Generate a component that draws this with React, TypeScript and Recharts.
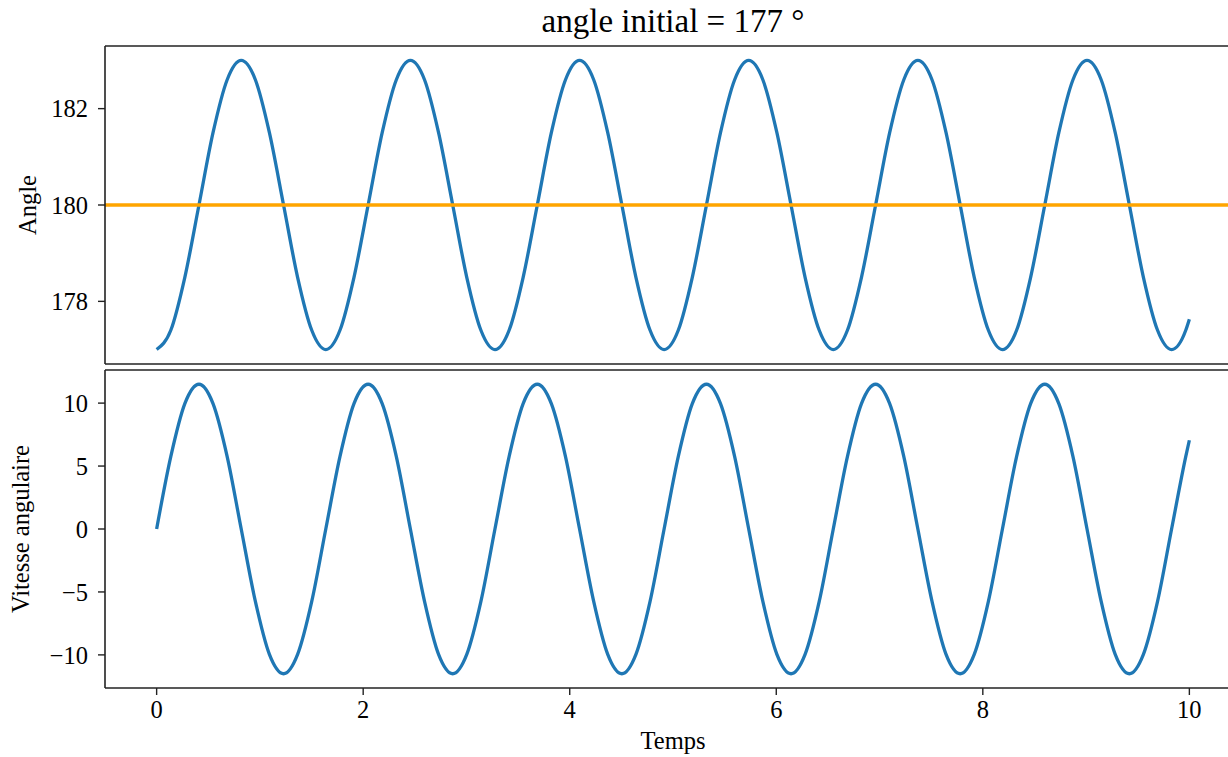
import React from "react";
import { LineChart, Line, XAxis, YAxis, ReferenceLine, Label } from "recharts";

// valeurs (pas de temps ~ T/12, T ~ 1.64 s)
const temps = [
  0, 0.137, 0.273, 0.41, 0.546, 0.683, 0.819, 0.956, 1.092, 1.229, 1.365, 1.502,
  1.638, 1.775, 1.911, 2.048, 2.184, 2.321, 2.457, 2.594, 2.73, 2.867, 3.003, 3.14,
  3.276, 3.413, 3.549, 3.686, 3.822, 3.959, 4.095, 4.232, 4.368, 4.505, 4.641, 4.778,
  4.914, 5.051, 5.187, 5.324, 5.46, 5.597, 5.733, 5.87, 6.006, 6.143, 6.279, 6.416,
  6.552, 6.689, 6.825, 6.962, 7.098, 7.235, 7.371, 7.508, 7.644, 7.781, 7.917, 8.054,
  8.19, 8.327, 8.463, 8.6, 8.736, 8.873, 9.009, 9.146, 9.282, 9.419, 9.555, 9.692,
  9.828, 9.965, 10.0,
];

const angle = [
  177.0, 177.4, 178.5, 180.0, 181.5, 182.6, 183.0, 182.6, 181.5, 180.0, 178.5, 177.4,
  177.0, 177.4, 178.5, 180.0, 181.5, 182.6, 183.0, 182.6, 181.5, 180.0, 178.5, 177.4,
  177.0, 177.4, 178.5, 180.0, 181.5, 182.6, 183.0, 182.6, 181.5, 180.0, 178.5, 177.4,
  177.0, 177.4, 178.5, 180.0, 181.5, 182.6, 183.0, 182.6, 181.5, 180.0, 178.5, 177.4,
  177.0, 177.4, 178.5, 180.0, 181.5, 182.6, 183.0, 182.6, 181.5, 180.0, 178.5, 177.4,
  177.0, 177.4, 178.5, 180.0, 181.5, 182.6, 183.0, 182.6, 181.5, 180.0, 178.5, 177.4,
  177.0, 177.4, 177.63,
];

const vitesse = [
  0, 5.75, 9.96, 11.5, 9.96, 5.75, 0, -5.75, -9.96, -11.5, -9.96, -5.75,
  0, 5.75, 9.96, 11.5, 9.96, 5.75, 0, -5.75, -9.96, -11.5, -9.96, -5.75,
  0, 5.75, 9.96, 11.5, 9.96, 5.75, 0, -5.75, -9.96, -11.5, -9.96, -5.75,
  0, 5.75, 9.96, 11.5, 9.96, 5.75, 0, -5.75, -9.96, -11.5, -9.96, -5.75,
  0, 5.75, 9.96, 11.5, 9.96, 5.75, 0, -5.75, -9.96, -11.5, -9.96, -5.75,
  0, 5.75, 9.96, 11.5, 9.96, 5.75, 0, -5.75, -9.96, -11.5, -9.96, -5.75,
  0, 5.75, 7.05,
];

const xTicks = [0, 2, 4, 6, 8, 10];
const angleTicks = [178, 180, 182];
const vitesseTicks = [-10, -5, 0, 5, 10];
const angleRef = 180;

const data = temps.map((t, i) => ({ t, angle: angle[i], vitesse: vitesse[i] }));

const FONT = "'Liberation Serif', 'Times New Roman', serif";
const FS = 24.5;
const AXIS = "#222";
const BLUE = "#1f77b4";
const W = 1300;
const H = 757;

const tickStyle = { fontSize: FS, fill: "#000", fontFamily: FONT };
const minus = (v: number) => String(v).replace("-", "\u2212");

// label vertical de l'axe y (x = ligne de base)
const yLabel = (text: string, x: number) => (props: any) => {
  const vb = props.viewBox;
  const y = vb.y + vb.height / 2;
  return (
    <text x={x} y={y} transform={`rotate(-90 ${x} ${y})`} textAnchor="middle"
      fontSize={FS} fontFamily={FONT} fill="#000">
      {text}
    </text>
  );
};

const xLabel = (text: string) => (props: any) => {
  const vb = props.viewBox;
  return (
    <text x={vb.x + vb.width / 2} y={749} textAnchor="middle" fontSize={FS} fontFamily={FONT} fill="#000">
      {text}
    </text>
  );
};

export default function App() {
  return (
    <div style={{ position: "fixed", left: 0, top: 0, width: 1228, height: 757, overflow: "hidden", background: "#fff", fontFamily: FONT }}>
      <svg width={1228} height={60} style={{ position: "absolute", left: 0, top: 0 }}>
        <text x={673} y={32} textAnchor="middle" fontSize={33} fontFamily={FONT} fill="#000">
          angle initial = 177 °
        </text>
      </svg>

      {/* angle */}
      <div style={{ position: "absolute", left: 0, top: 0 }}>
        <LineChart width={W} height={H} data={data} margin={{ top: 46, right: 59, left: 0, bottom: 383 }}>
          <XAxis dataKey="t" type="number" domain={[-0.5, 10.5]} ticks={xTicks} interval={0} allowDataOverflow
            height={10} tick={false} tickSize={7} stroke={AXIS} axisLine={{ stroke: AXIS, strokeWidth: 1.6 }}
            tickLine={{ stroke: AXIS, strokeWidth: 1.4 }} />
          <YAxis type="number" domain={[176.7, 183.3]} ticks={angleTicks} interval={0} allowDataOverflow width={105}
            tickSize={7} tickMargin={10} tick={tickStyle} axisLine={{ stroke: AXIS, strokeWidth: 1.6 }}
            tickLine={{ stroke: AXIS, strokeWidth: 1.4 }}>
            <Label content={yLabel("Angle", 35.5)} />
          </YAxis>
          <ReferenceLine y={183.3} stroke={AXIS} strokeWidth={1.6} />
          <Line type="monotone" dataKey="angle" stroke={BLUE} strokeWidth={3.3} dot={false} isAnimationActive={false} />
          <ReferenceLine y={angleRef} stroke="#ffa500" strokeWidth={3.3} />
        </LineChart>
      </div>

      {/* vitesse angulaire */}
      <div style={{ position: "absolute", left: 0, top: 0 }}>
        <LineChart width={W} height={H} data={data} margin={{ top: 370, right: 59, left: 0, bottom: 0 }}>
          <XAxis dataKey="t" type="number" domain={[-0.5, 10.5]} ticks={xTicks} interval={0} allowDataOverflow
            height={69} tickSize={7} tickMargin={6} tick={tickStyle} axisLine={{ stroke: AXIS, strokeWidth: 1.6 }}
            tickLine={{ stroke: AXIS, strokeWidth: 1.4 }}>
            <Label content={xLabel("Temps")} />
          </XAxis>
          <YAxis type="number" domain={[-12.63, 12.63]} ticks={vitesseTicks} interval={0} allowDataOverflow width={105}
            tickSize={7} tickMargin={10} tick={tickStyle} tickFormatter={minus}
            axisLine={{ stroke: AXIS, strokeWidth: 1.6 }} tickLine={{ stroke: AXIS, strokeWidth: 1.4 }}>
            <Label content={yLabel("Vitesse angulaire", 29)} />
          </YAxis>
          <ReferenceLine y={12.63} stroke={AXIS} strokeWidth={1.6} />
          <Line type="monotone" dataKey="vitesse" stroke={BLUE} strokeWidth={3.3} dot={false} isAnimationActive={false} />
        </LineChart>
      </div>
    </div>
  );
}
